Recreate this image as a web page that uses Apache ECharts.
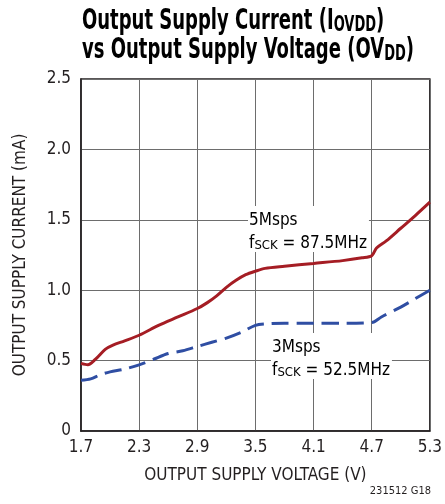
<!DOCTYPE html>
<html><head><meta charset="utf-8">
<script src="https://cdn.jsdelivr.net/npm/echarts@6/dist/echarts.min.js"></script>
<style>html,body{margin:0;padding:0;background:#fff}#c{width:445px;height:504px}</style>
</head><body><div id="c"></div>
<script>
var X_MIN = 1.7, X_MAX = 5.3, X_STEP = 0.6;
var xTicks = ['1.7','2.3','2.9','3.5','4.1','4.7','5.3'];
var yTicks = ['0','0.5','1.0','1.5','2.0','2.5'];
var red5Msps = [[1.70,0.48],[1.77,0.47],[1.85,0.51],[1.95,0.58],[2.03,0.61],[2.15,0.64],[2.30,0.68],[2.50,0.75],[2.70,0.81],[2.90,0.87],[3.00,0.91],[3.10,0.96],[3.20,1.02],[3.30,1.07],[3.40,1.11],[3.50,1.135],[3.60,1.155],[3.80,1.17],[4.10,1.19],[4.40,1.21],[4.60,1.23],[4.70,1.245],[4.75,1.30],[4.85,1.35],[5.00,1.44],[5.15,1.53],[5.30,1.625]];
var blue3Msps = [[1.70,0.36],[1.80,0.37],[1.90,0.40],[2.00,0.42],[2.15,0.44],[2.30,0.47],[2.45,0.51],[2.60,0.55],[2.75,0.57],[2.90,0.60],[3.05,0.63],[3.20,0.66],[3.35,0.70],[3.50,0.75],[3.60,0.76],[3.80,0.765],[4.10,0.765],[4.40,0.765],[4.70,0.77],[4.80,0.81],[5.00,0.88],[5.15,0.94],[5.30,1.00]];
function shift(a){return a.map(function(p){return [+(p[0]-X_MIN).toFixed(3), p[1]];});}
var FONT = '"Liberation Sans Narrow","DejaVu Sans Condensed","Liberation Sans",sans-serif';
var TFONT = '"DejaVu Sans Condensed","Liberation Sans",sans-serif';
var tRich = {
  t:{fontFamily:TFONT,fontWeight:'bold',fontSize:29,color:'#231f20',lineHeight:29,verticalAlign:'bottom'},
  s:{fontFamily:TFONT,fontWeight:'bold',fontSize:21,color:'#231f20',lineHeight:29,padding:[10,0,0,0],verticalAlign:'bottom'}
};
var chart = echarts.init(document.getElementById('c'), null, {renderer:'canvas'});
chart.setOption({
  animation:false,
  backgroundColor:'#fff',
  grid:{left:81, top:79, width:352, height:352, show:true, borderColor:'#231f20', borderWidth:1.5},
  xAxis:{
    type:'value', min:0, max:+(X_MAX-X_MIN).toFixed(3), interval:X_STEP,
    name:'OUTPUT SUPPLY VOLTAGE (V)', nameLocation:'middle', nameGap:36,
    nameTextStyle:{fontFamily:FONT,fontSize:17,color:'#231f20'},
    axisLine:{lineStyle:{color:'#231f20',width:1.5}},
    axisTick:{show:false},
    axisLabel:{fontFamily:FONT,fontSize:17,color:'#231f20',margin:8,
      formatter:function(v){var i=Math.round(v/X_STEP);return xTicks[i]||'';}},
    splitLine:{lineStyle:{color:'#6d6d6d',width:1}}
  },
  yAxis:{
    type:'value', min:0, max:2.5, interval:0.5,
    name:'OUTPUT SUPPLY CURRENT (mA)', nameLocation:'middle', nameGap:52,
    nameTextStyle:{fontFamily:FONT,fontSize:17,color:'#231f20'},
    axisLine:{lineStyle:{color:'#231f20',width:1.5}},
    axisTick:{show:false},
    axisLabel:{fontFamily:FONT,fontSize:17,color:'#231f20',margin:10,
      formatter:function(v){var i=Math.round(v/0.5);return yTicks[i]||'';}},
    splitLine:{lineStyle:{color:'#6d6d6d',width:1}}
  },
  series:[
    {type:'line', data:shift(red5Msps), smooth:0.3, symbol:'none',
     lineStyle:{color:'#a51d24',width:3}, z:3},
    {type:'line', data:shift(blue3Msps), smooth:0.3, symbol:'none',
     lineStyle:{color:'#2f4ea3',width:3,type:[17,8]}, z:3}
  ],
  graphic:[
    {type:'text', x:82, y:7, scaleX:0.69, style:{
      text:'{t|Output Supply Current (I}{s|OVDD}{t|)}\n{t|vs Output Supply Voltage (OV}{s|DD}{t|)}',
      rich:tRich}},
    {type:'text', left:248, top:206, z:10, style:{
      text:'{n|5Msps}\n{n|f}{s|SCK}{n| = 87.5MHz}',
      backgroundColor:'#fff', padding:[0,2,0,1],
      rich:{n:{fontFamily:FONT,fontSize:17,color:'#231f20',lineHeight:23,verticalAlign:'bottom'},
            s:{fontFamily:FONT,fontSize:13,color:'#231f20',lineHeight:23,padding:[6,0,0,0],verticalAlign:'bottom'}}}},
    {type:'text', left:271, top:333, z:10, style:{
      text:'{n|3Msps}\n{n|f}{s|SCK}{n| = 52.5MHz}',
      backgroundColor:'#fff', padding:[0,2,0,1],
      rich:{n:{fontFamily:FONT,fontSize:17,color:'#231f20',lineHeight:23,verticalAlign:'bottom'},
            s:{fontFamily:FONT,fontSize:13,color:'#231f20',lineHeight:23,padding:[6,0,0,0],verticalAlign:'bottom'}}}},
    {type:'text', right:14, top:486, style:{text:'231512 G18', fontFamily:FONT, fontSize:11, fill:'#231f20'}}
  ]
});
</script></body></html>
